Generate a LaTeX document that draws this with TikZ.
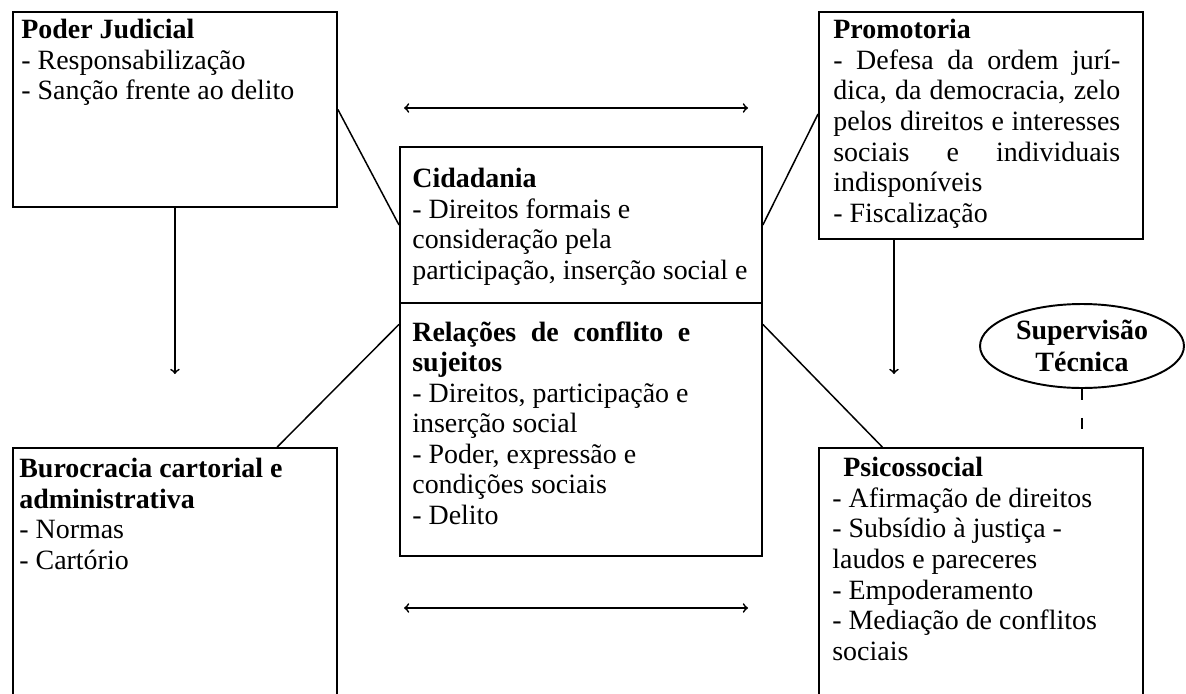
\documentclass[tikz,border=0pt]{standalone}
\usepackage{fontspec}
\setmainfont{Liberation Serif}
\usetikzlibrary{positioning,shapes.geometric}

\tikzset{
  box/.style={draw, line width=1.1pt, minimum width=6.48cm, anchor=north west, inner sep=0pt},
  txt/.style={align=left, inner sep=0pt, font=\fontsize{15.9}{17.4}\selectfont},
  link/.style={line width=0.85pt},
  arrow/.style={line width=1pt, ->},
}

\begin{document}
\begin{tikzpicture}[x=0.02cm,y=-0.02cm]
  \useasboundingbox (0,0) rectangle (1186,693);
  \clip (0,0) rectangle (1186,693);

  % boxes
  \node[box, minimum height=3.9cm] (judicial) at (12,11) {};
  \node[box, minimum height=4.54cm] (promotoria) at (818,11) {};
  \node[box, minimum width=7.24cm, minimum height=3.12cm] (cidadania) at (399,146) {};
  \node[box, minimum width=7.24cm, minimum height=5.06cm] (relacoes) at (399,302) {};
  \node[box, minimum height=5.2cm] (burocracia) at (12,447) {};
  \node[box, minimum height=5.2cm] (psico) at (818,447) {};
  \node[draw, ellipse, line width=1.1pt, minimum width=4.08cm, minimum height=1.68cm,
        inner sep=0pt, align=center, font=\fontsize{15.9}{18.5}\selectfont\bfseries]
        (supervisao) at (1082,346) {Supervisão\\Técnica};

  % texts
  \node[txt, below right=0.16cm and 0.18cm of judicial.north west] (judicialtxt)
    {{\bfseries Poder Judicial}\\- Responsabilização\\- Sanção frente ao delito};
  \node[txt, below right=0.16cm and 0.3cm of promotoria.north west] (promotoriatxt)
    {{\bfseries Promotoria}\\
     \makebox[5.74cm][s]{- Defesa da ordem jurí-}\\
     \makebox[5.74cm][s]{dica, da democracia, zelo}\\
     \makebox[5.74cm][s]{pelos direitos e interesses}\\
     \makebox[5.74cm][s]{sociais e individuais}\\
     indisponíveis\\- Fiscalização};
  \node[txt, below right=0.44cm and 0.26cm of cidadania.north west] (cidadaniatxt)
    {{\bfseries Cidadania}\\- Direitos formais e\\consideração pela\\participação, inserção social e};
  \node[txt, below right=0.38cm and 0.26cm of relacoes.north west] (relacoestxt)
    {\makebox[5.56cm][s]{\bfseries Relações de conflito e}\\{\bfseries sujeitos}\\
     - Direitos, participação e\\inserção social\\- Poder, expressão e\\condições sociais\\- Delito};
  \node[txt, below right=0.22cm and 0.14cm of burocracia.north west] (burocraciatxt)
    {{\bfseries Burocracia cartorial e}\\{\bfseries administrativa}\\- Normas\\- Cartório};
  \node[txt, below right=0.2cm and 0.28cm of psico.north west] (psicotxt)
    {\hspace*{0.22cm}{\bfseries Psicossocial}\\- Afirmação de direitos\\- Subsídio à justiça -\\
     laudos e pareceres\\- Empoderamento\\- Mediação de conflitos\\sociais};

  % connectors
  \draw[link] (judicial.east) -- (cidadania.west);
  \draw[link] (cidadania.east) -- (promotoria.176);
  \draw[link] (burocracia.52) -- (relacoes.150);
  \draw[link] (relacoes.30) -- (psico.127);
  \draw[arrow, shorten >=1.46cm] (judicial.south) -- (burocracia.north);
  \draw[arrow, shorten >=1.46cm] ([xshift=1.52cm]promotoria.south west) -- ([xshift=1.52cm]psico.north west);
  \draw[link, dash pattern=on 0.22cm off 0.36cm] (supervisao.south) -- (supervisao.south |- psico.north);

  \coordinate (topl) at (404,108);
  \coordinate (topr) at (748,108);
  \coordinate (botl) at (404,608);
  \coordinate (botr) at (748,608);
  \draw[arrow, <->] (topl) -- (topr);
  \draw[arrow, <->] (botl) -- (botr);
\end{tikzpicture}
\end{document}
